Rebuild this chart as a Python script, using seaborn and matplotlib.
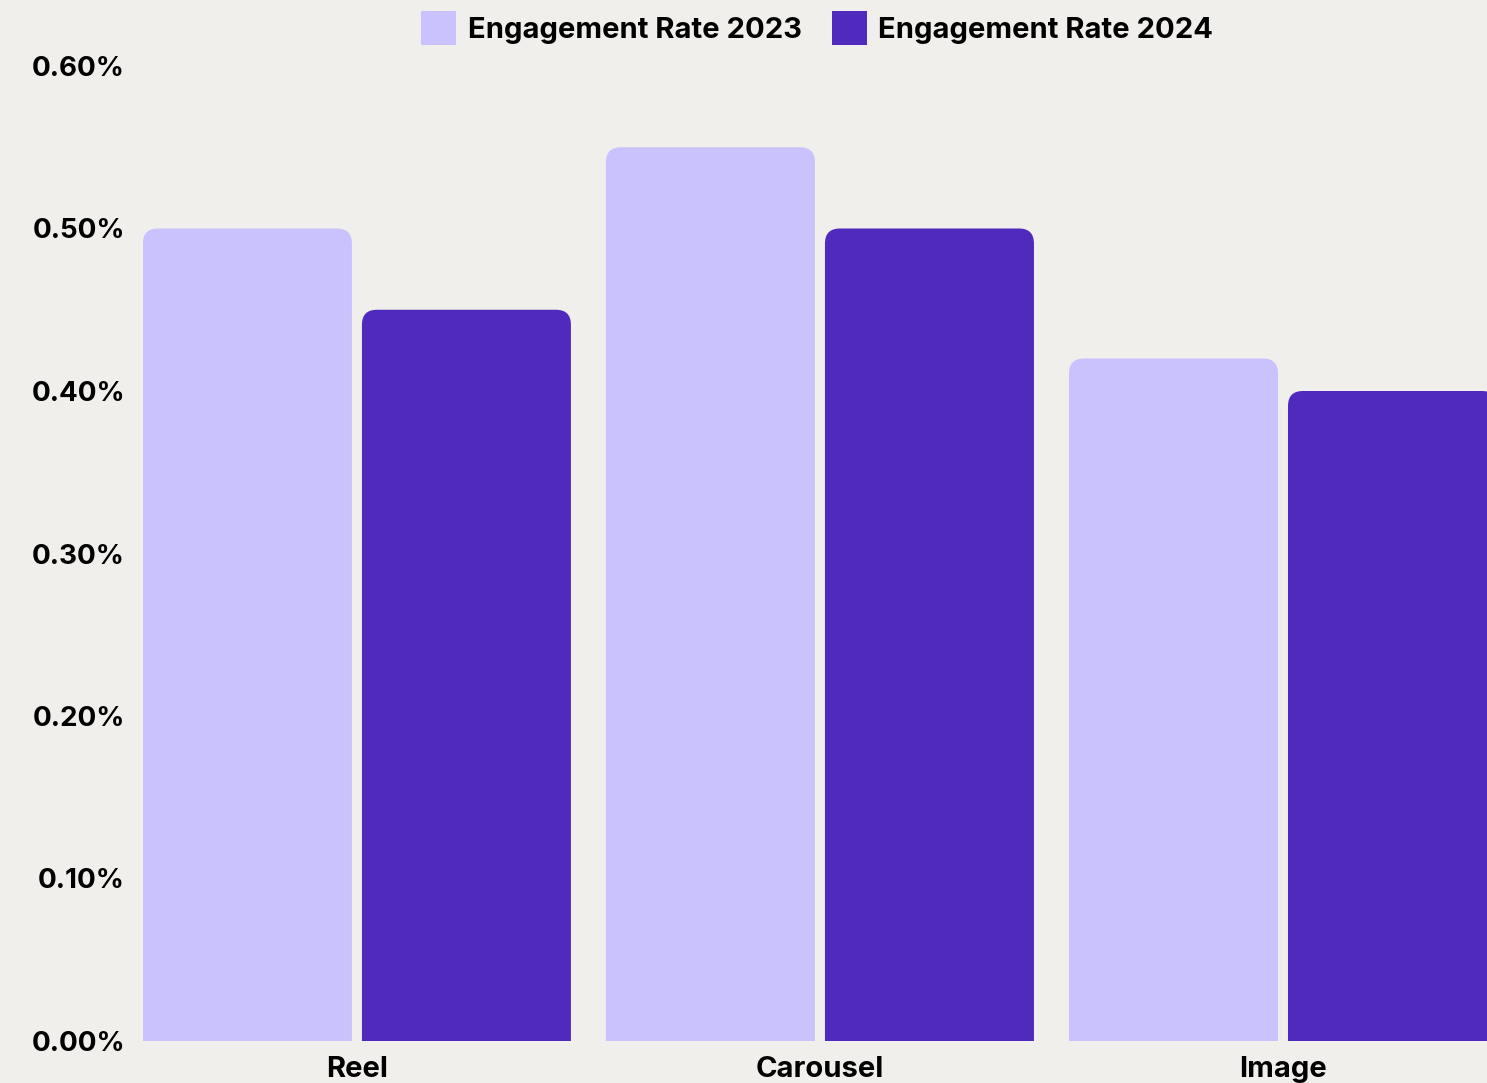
import matplotlib
matplotlib.use("Agg")
import matplotlib.pyplot as plt
from matplotlib.patches import FancyBboxPatch
import seaborn as sns
import pandas as pd

# Engagement rate (%) by post format
formats = ["Reel", "Carousel", "Image"]
rate_2023 = [0.50, 0.55, 0.42]
rate_2024 = [0.45, 0.50, 0.40]
series_names = ["Engagement Rate 2023", "Engagement Rate 2024"]
y_ticks = [0.0, 0.1, 0.2, 0.3, 0.4, 0.5, 0.6]

df = pd.DataFrame({
    "format": formats * 2,
    "rate": rate_2023 + rate_2024,
    "series": [series_names[0]] * 3 + [series_names[1]] * 3,
})

BG = "#F0EFEB"
LIGHT = "#C9C2FD"
DARK = "#5029BD"

sns.set_theme(style="white")
plt.rcParams["font.family"] = ["Inter", "DejaVu Sans"]
plt.rcParams["font.weight"] = "bold"
plt.rcParams["text.color"] = "black"

W, H = 1487, 1083
fig = plt.figure(figsize=(W / 100, H / 100), dpi=100, facecolor=BG)
ax_left, ax_right = 143 / W, 1.0
ax_bottom, ax_top = (H - 1041) / H, (H - 66) / H
ax = fig.add_axes([ax_left, ax_bottom, ax_right - ax_left, ax_top - ax_bottom])
ax.set_facecolor(BG)

sns.barplot(data=df, x="format", y="rate", hue="series", order=formats,
            hue_order=series_names, palette=[LIGHT, DARK], saturation=1,
            width=0.946, gap=0.0457, ax=ax, legend=False)

ax.set_xlim(-0.462, 2.4406)
ax.set_ylim(0, 0.6)

# Replace plain rectangles with bars that have rounded top corners
fig.canvas.draw()
x_per_px = (2.4406 + 0.462) / ax.bbox.width
y_per_px = 0.6 / ax.bbox.height
radius_px = 15
aspect = y_per_px / x_per_px
rects = list(ax.patches)
for r in rects:
    x0, w, h = r.get_x(), r.get_width(), r.get_height()
    color = r.get_facecolor()
    r.remove()
    ext = radius_px * 2 * y_per_px
    box = FancyBboxPatch((x0, -ext), w, h + ext,
                         boxstyle=f"round,pad=0,rounding_size={radius_px * x_per_px}",
                         mutation_aspect=aspect, facecolor=color,
                         edgecolor="none", linewidth=0, clip_on=True)
    ax.add_patch(box)

ax.set_yticks(y_ticks)
ax.set_yticklabels([f"{v:.2f}%" for v in y_ticks])
ax.tick_params(axis="y", length=0, pad=13, labelsize=20, labelcolor="black")
ax.tick_params(axis="x", length=0, pad=11, labelsize=21, labelcolor="black")
for lab in ax.get_xticklabels() + ax.get_yticklabels():
    lab.set_fontweight("bold")
ax.set_xlabel("")
ax.set_ylabel("")
for s in ax.spines.values():
    s.set_visible(False)
ax.grid(False)

handles = [plt.Rectangle((0, 0), 1, 1, facecolor=c, edgecolor="none") for c in (LIGHT, DARK)]
fig.legend(handles, series_names, loc="center", bbox_to_anchor=(0.5495, 1 - 28 / H),
           ncol=2, frameon=False, labelcolor="black",
           prop={"family": ["Inter", "DejaVu Sans"], "weight": "bold", "size": 21},
           handlelength=1.2, handleheight=1.4, handletextpad=0.4, columnspacing=1.03)

fig.savefig("out.png", dpi=100, facecolor=BG)
